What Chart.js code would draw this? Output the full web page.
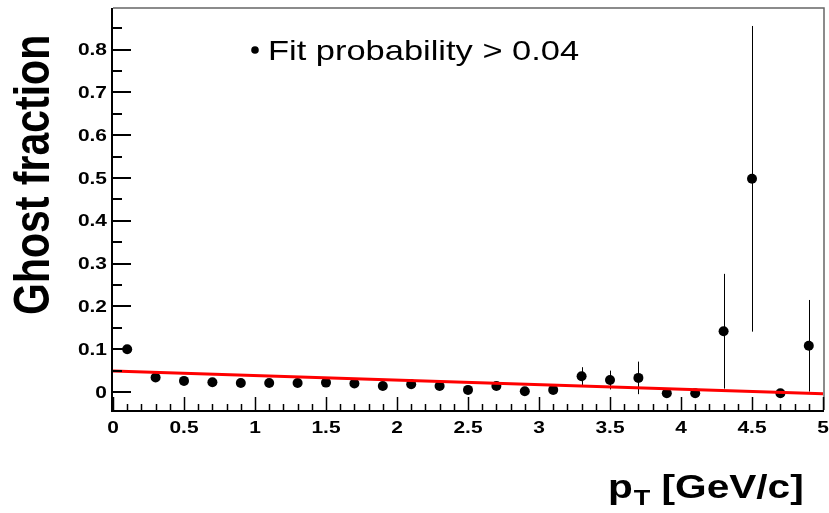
<!DOCTYPE html>
<html>
<head>
<meta charset="utf-8">
<script src="https://cdn.jsdelivr.net/npm/chart.js@4.4.1/dist/chart.umd.min.js"></script>
<style>
 html, body { margin: 0; padding: 0; background: #fff; }
 #wrap { width: 829px; height: 513px; }
</style>
</head>
<body>
<div id="wrap"><canvas id="ghostChart"></canvas></div>
<script>
// ghost fraction per pT bin (bin width 0.2 GeV/c)
const binCenters = [0.1, 0.3, 0.5, 0.7, 0.9, 1.1, 1.3, 1.5, 1.7, 1.9, 2.1, 2.3, 2.5,
 2.7, 2.9, 3.1, 3.3, 3.5, 3.7, 3.9, 4.1, 4.3, 4.5, 4.7, 4.9];
const ghostFraction = [0.100, 0.034, 0.026, 0.023, 0.021, 0.021, 0.021, 0.022, 0.020,
 0.014, 0.018, 0.014, 0.005, 0.014, 0.002, 0.005, 0.037, 0.028, 0.033, -0.003, -0.003,
 0.142, 0.498, -0.003, 0.108];
const ghostError = [0.004, 0.002, 0.002, 0.002, 0.002, 0.002, 0.002, 0.002, 0.002,
 0.002, 0.002, 0.003, 0.003, 0.008, 0.003, 0.005, 0.021, 0.022, 0.038, 0.004, 0.004,
 0.134, 0.357, 0.004, 0.107];

// straight-line fit
const fitX = [0, 5];
const fitY = [0.049, -0.004];

const xTickLabels = ['0', '0.5', '1', '1.5', '2', '2.5', '3', '3.5', '4', '4.5', '5'];
const yTickLabels = ['0', '0.1', '0.2', '0.3', '0.4', '0.5', '0.6', '0.7', '0.8'];

const legendText = 'Fit probability > 0.04';
const yTitle = 'Ghost fraction';
const xTitle = 'p';
const xTitleSub = 'T';
const xTitleRest = ' [GeV/c]';

const FONT = '"Liberation Sans", Arial, sans-serif';
const STRETCH = 1.23; // text is drawn a bit wide

function wideText(ctx, txt, x, y, font, align, base) {
 ctx.save();
 ctx.font = font;
 ctx.textAlign = align || 'left';
 ctx.textBaseline = base || 'alphabetic';
 ctx.translate(x, y);
 ctx.scale(STRETCH, 1);
 ctx.fillText(txt, 0, 0);
 ctx.restore();
}

// vertical error bars, under the markers
const errorBars = {
 id: 'errorBars',
 beforeDatasetsDraw(chart) {
  const ctx = chart.ctx, xs = chart.scales.x, ys = chart.scales.y;
  ctx.save();
  ctx.strokeStyle = '#000';
  ctx.lineWidth = 1;
  binCenters.forEach((c, i) => {
   const px = Math.round(xs.getPixelForValue(c)) + 0.5;
   ctx.beginPath();
   ctx.moveTo(px, ys.getPixelForValue(ghostFraction[i] + ghostError[i]));
   ctx.lineTo(px, ys.getPixelForValue(ghostFraction[i] - ghostError[i]));
   ctx.stroke();
  });
  ctx.restore();
 }
};

// ROOT-style frame: inward ticks, labels, titles, legend
const frame = {
 id: 'frame',
 afterDraw(chart) {
  const ctx = chart.ctx, xs = chart.scales.x, ys = chart.scales.y;
  const a = chart.chartArea;
  ctx.save();

  // top and right border
  ctx.strokeStyle = '#666';
  ctx.lineWidth = 1.5;
  ctx.beginPath();
  ctx.moveTo(a.left, a.top);
  ctx.lineTo(a.right + 1, a.top);
  ctx.lineTo(a.right + 1, a.bottom);
  ctx.stroke();

  // axes
  ctx.strokeStyle = '#000';
  ctx.lineWidth = 2;
  ctx.beginPath();
  ctx.moveTo(a.left - 1, a.top);
  ctx.lineTo(a.left - 1, a.bottom + 1);
  ctx.lineTo(a.right + 1, a.bottom + 1);
  ctx.stroke();

  // x ticks
  ctx.lineWidth = 1.5;
  for (let k = 0; k <= 50; k++) {
   const px = Math.round(xs.getPixelForValue(k / 10)) + 0.5;
   const len = k % 5 === 0 ? 13 : 6;
   ctx.beginPath();
   ctx.moveTo(px, a.bottom);
   ctx.lineTo(px, a.bottom - len);
   ctx.stroke();
  }
  // y ticks
  ctx.lineWidth = 2;
  for (let k = 0; k <= 17; k++) {
   const v = k * 0.05;
   const py = Math.round(ys.getPixelForValue(v));
   const len = k % 2 === 0 ? 18 : 9;
   ctx.beginPath();
   ctx.moveTo(a.left, py);
   ctx.lineTo(a.left + len, py);
   ctx.stroke();
  }

  // tick labels
  ctx.fillStyle = '#000';
  const tickFont = 'bold 17px ' + FONT;
  xTickLabels.forEach(t => {
   wideText(ctx, t, xs.getPixelForValue(parseFloat(t)), a.bottom + 18, tickFont, 'center', 'middle');
  });
  yTickLabels.forEach(t => {
   wideText(ctx, t, a.left - 6, ys.getPixelForValue(parseFloat(t)) + 1, tickFont, 'right', 'middle');
  });

  // y title, rotated
  ctx.save();
  ctx.font = 'bold 41px ' + FONT;
  ctx.textAlign = 'left';
  ctx.textBaseline = 'alphabetic';
  ctx.translate(49, 315);
  ctx.scale(STRETCH, 1);
  ctx.rotate(-Math.PI / 2);
  ctx.fillText(yTitle, 0, 0);
  ctx.restore();

  // x title with subscript
  const big = 'bold 33px ' + FONT, small = 'bold 22px ' + FONT;
  let x0 = 608;
  const base = 498;
  wideText(ctx, xTitle, x0, base, big);
  ctx.font = big;
  x0 += ctx.measureText(xTitle).width * STRETCH;
  wideText(ctx, xTitleSub, x0 + 1, base + 7, small);
  ctx.font = small;
  x0 += ctx.measureText(xTitleSub).width * STRETCH + 1;
  wideText(ctx, xTitleRest, x0, base, big);

  // legend
  ctx.beginPath();
  ctx.arc(255, 50, 3.8, 0, Math.PI * 2);
  ctx.fill();
  wideText(ctx, legendText, 268, 60, '28px ' + FONT);

  ctx.restore();
 }
};

new Chart(document.getElementById('ghostChart'), {
 type: 'scatter',
 data: {
  datasets: [
   {
    label: 'fit',
    type: 'line',
    data: fitX.map((x, i) => ({ x: x, y: fitY[i] })),
    borderColor: '#ff0000',
    borderWidth: 3,
    pointRadius: 0,
    tension: 0,
    order: 0
   },
   {
    label: legendText,
    data: binCenters.map((x, i) => ({ x: x, y: ghostFraction[i] })),
    backgroundColor: '#000',
    borderWidth: 0,
    pointRadius: 5,
    order: 1
   }
  ]
 },
 options: {
  responsive: true,
  maintainAspectRatio: false,
  animation: false,
  layout: { padding: { left: 113, right: 6, top: 8, bottom: 103 } },
  plugins: { legend: { display: false }, tooltip: { enabled: false } },
  scales: {
   x: { type: 'linear', min: 0, max: 5, display: false },
   y: { type: 'linear', min: -0.042, max: 0.897, display: false }
  }
 },
 plugins: [errorBars, frame]
});
</script>
</body>
</html>
